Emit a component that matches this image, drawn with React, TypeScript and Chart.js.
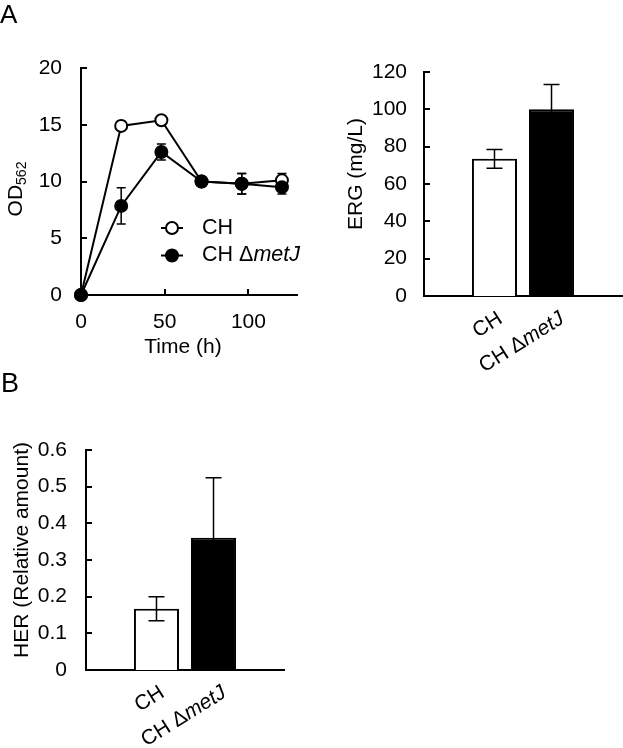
import React, { useEffect, useRef } from "react";
import { Chart, registerables } from "chart.js";

Chart.register(...registerables);

const FONT = "'Liberation Sans', Arial, Helvetica, sans-serif";
const W = 623;
const H = 748;

// ---------- Data ----------
const seriesNames = ["CH", "CH ΔmetJ"];
const italicPart = "metJ";

// Panel A (left): growth curve
const timeHours = [0, 24, 48, 72, 96, 120];
const odCH = [0, 14.9, 15.4, 10.0, 9.8, 10.1];
const odCHErr = [0, 0.4, 0.2, 0.2, 0.9, 0.6];
const odMetJ = [0, 7.85, 12.6, 10.0, 9.8, 9.5];
const odMetJErr = [0, 1.6, 0.7, 0.2, 0.9, 0.6];
const timeTicks = [0, 50, 100];
const odTicks = [0, 5, 10, 15, 20];
const timeTitle = "Time (h)";
const odTitle = "OD";
const odTitleSub = "562";

// Panel A (right): ERG
const ergValues = [73.5, 100];
const ergErrors = [5, 13.3];
const ergTicks = [0, 20, 40, 60, 80, 100, 120];
const ergTitle = "ERG (mg/L)";

// Panel B: HER
const herValues = [0.167, 0.361];
const herErrors = [0.033, 0.163];
const herTicks = [0, 0.1, 0.2, 0.3, 0.4, 0.5, 0.6];
const herTitle = "HER (Relative amount)";

const panelLetters = ["A", "B"];

// ---------- helpers ----------
function segments(text: string) {
  const idx = text.indexOf(italicPart);
  if (idx < 0) return [{ t: text, it: false }];
  const out: { t: string; it: boolean }[] = [];
  if (idx > 0) out.push({ t: text.slice(0, idx), it: false });
  out.push({ t: italicPart, it: true });
  const rest = text.slice(idx + italicPart.length);
  if (rest) out.push({ t: rest, it: false });
  return out;
}

function drawMixed(ctx: CanvasRenderingContext2D, text: string, x: number, y: number, size: number, align: "left" | "right" | "center") {
  const segs = segments(text);
  const fonts = segs.map((s) => `${s.it ? "italic " : ""}${size}px ${FONT}`);
  const widths = segs.map((s, i) => {
    ctx.font = fonts[i];
    return ctx.measureText(s.t).width;
  });
  const total = widths.reduce((a, b) => a + b, 0);
  let cx = align === "right" ? x - total : align === "center" ? x - total / 2 : x;
  ctx.textAlign = "left";
  segs.forEach((s, i) => {
    ctx.font = fonts[i];
    ctx.fillText(s.t, cx, y);
    cx += widths[i];
  });
}

const inwardTicks = {
  id: "inwardTicks",
  beforeDatasetsDraw(chart: any, _a: any, opts: any) {
    const ctx = chart.ctx;
    const { left, bottom } = chart.chartArea;
    ctx.save();
    ctx.strokeStyle = "#000";
    ctx.lineWidth = 2;
    const len = opts.len ?? 6;
    const ys = chart.scales.y;
    ys.ticks.forEach((t: any) => {
      const py = Math.round(ys.getPixelForValue(t.value));
      ctx.beginPath();
      ctx.moveTo(left, py);
      ctx.lineTo(left + len, py);
      ctx.stroke();
    });
    if (opts.x) {
      const xs = chart.scales.x;
      xs.ticks.forEach((t: any) => {
        const px = Math.round(xs.getPixelForValue(t.value));
        ctx.beginPath();
        ctx.moveTo(px, bottom);
        ctx.lineTo(px, bottom - len);
        ctx.stroke();
      });
    }
    ctx.restore();
  },
};

function drawErrors(chart: any, opts: any) {
  if (!opts || !opts.errors) return;
  const ctx = chart.ctx;
  const ys = chart.scales.y;
  ctx.save();
  ctx.strokeStyle = "#000";
  ctx.lineWidth = opts.lineWidth ?? 1.5;
  chart.data.datasets.forEach((ds: any, i: number) => {
    const meta = chart.getDatasetMeta(i);
    const errs = opts.errors[i];
    meta.data.forEach((el: any, j: number) => {
      const raw = ds.data[j];
      const v = typeof raw === "object" ? raw.y : raw;
      const e = errs[j];
      if (!e) return;
      const x = el.x;
      const yTop = ys.getPixelForValue(v + e);
      const yBot = ys.getPixelForValue(v - e);
      const hw = opts.cap / 2;
      ctx.beginPath();
      ctx.moveTo(x, yTop);
      ctx.lineTo(x, yBot);
      ctx.moveTo(x - hw, yTop);
      ctx.lineTo(x + hw, yTop);
      ctx.moveTo(x - hw, yBot);
      ctx.lineTo(x + hw, yBot);
      ctx.stroke();
    });
  });
  ctx.restore();
}

const errorBars = {
  id: "errorBars",
  beforeDatasetsDraw(chart: any, _a: any, opts: any) {
    if (opts.layer === "before") drawErrors(chart, opts);
  },
  afterDatasetsDraw(chart: any, _a: any, opts: any) {
    if (opts.layer !== "before") drawErrors(chart, opts);
  },
};

const customLegend = {
  id: "customLegend",
  afterDraw(chart: any, _a: any, opts: any) {
    if (!opts || !opts.show) return;
    const ctx = chart.ctx;
    const { left, top } = chart.chartArea;
    ctx.save();
    chart.data.datasets.forEach((ds: any, i: number) => {
      const cx = left + opts.dx;
      const cy = top + opts.dy + i * opts.rowGap;
      ctx.strokeStyle = "#000";
      ctx.lineWidth = 2;
      ctx.beginPath();
      ctx.moveTo(cx - opts.lineHalf, cy);
      ctx.lineTo(cx + opts.lineHalf, cy);
      ctx.stroke();
      ctx.beginPath();
      ctx.arc(cx, cy, ds.pointRadius, 0, Math.PI * 2);
      ctx.fillStyle = ds.pointBackgroundColor;
      ctx.fill();
      ctx.stroke();
      ctx.fillStyle = "#000";
      ctx.textBaseline = "alphabetic";
      drawMixed(ctx, ds.label, left + opts.textDx, cy + opts.textDy, opts.size, "left");
    });
    ctx.restore();
  },
};

const barLabels = {
  id: "barLabels",
  afterDraw(chart: any, _a: any, opts: any) {
    if (!opts || !opts.show) return;
    const ctx = chart.ctx;
    const bottom = chart.chartArea.bottom;
    ctx.save();
    ctx.fillStyle = "#000";
    ctx.textBaseline = "alphabetic";
    chart.data.datasets.forEach((ds: any, i: number) => {
      const el = chart.getDatasetMeta(i).data[0];
      ctx.save();
      ctx.translate(el.x + opts.dx[i], bottom + opts.dy);
      ctx.rotate((-opts.angle * Math.PI) / 180);
      drawMixed(ctx, ds.label, 0, 0, opts.size, "right");
      ctx.restore();
    });
    ctx.restore();
  },
};

const axisTitles = {
  id: "axisTitles",
  afterDraw(chart: any, _a: any, opts: any) {
    if (!opts || !opts.items) return;
    const ctx = chart.ctx;
    ctx.save();
    ctx.fillStyle = "#000";
    ctx.textBaseline = "alphabetic";
    opts.items.forEach((it: any) => {
      ctx.save();
      ctx.translate(it.x, it.y);
      if (it.rotate) ctx.rotate(-Math.PI / 2);
      if (it.sub) {
        ctx.font = `${it.size}px ${FONT}`;
        const w1 = ctx.measureText(it.text).width;
        ctx.font = `${it.subSize}px ${FONT}`;
        const w2 = ctx.measureText(it.sub).width;
        const sx = it.align === "center" ? -(w1 + w2) / 2 : 0;
        ctx.textAlign = "left";
        ctx.font = `${it.size}px ${FONT}`;
        ctx.fillText(it.text, sx, 0);
        ctx.font = `${it.subSize}px ${FONT}`;
        ctx.fillText(it.sub, sx + w1, it.subShift);
      } else {
        ctx.font = `${it.size}px ${FONT}`;
        ctx.textAlign = it.align || "center";
        ctx.fillText(it.text, 0, 0);
      }
      ctx.restore();
    });
    ctx.restore();
  },
};

Chart.register(inwardTicks, errorBars, customLegend, barLabels, axisTitles);

const TICK_SIZE = 21;

function yScale(min: number, max: number, ticks: number[], width: number, padding: number) {
  return {
    type: "linear",
    min,
    max,
    afterBuildTicks: (s: any) => {
      s.ticks = ticks.map((v) => ({ value: v }));
    },
    afterFit: (s: any) => {
      s.width = width;
    },
    grid: { display: false, drawTicks: false },
    border: { display: true, color: "#000", width: 2 },
    ticks: { color: "#000", padding, font: { family: FONT, size: TICK_SIZE } },
  };
}

function makeLineChart(canvas: HTMLCanvasElement) {
  const area = { left: 81, right: 297, top: 68, bottom: 295 };
  return new Chart(canvas, {
    type: "line",
    data: {
      datasets: [
        {
          label: seriesNames[0],
          data: timeHours.map((t, i) => ({ x: t, y: odCH[i] })),
          borderColor: "#000",
          borderWidth: 2,
          pointRadius: 6,
          pointBorderWidth: 2,
          pointBackgroundColor: "#fff",
          pointBorderColor: "#000",
          tension: 0,
          clip: false,
          order: 2,
        },
        {
          label: seriesNames[1],
          data: timeHours.map((t, i) => ({ x: t, y: odMetJ[i] })),
          borderColor: "#000",
          borderWidth: 2,
          pointRadius: 6,
          pointBorderWidth: 2,
          pointBackgroundColor: "#000",
          pointBorderColor: "#000",
          tension: 0,
          clip: false,
          order: 1,
        },
      ],
    },
    options: {
      responsive: false,
      animation: false,
      events: [],
      layout: { padding: { left: 0, top: area.top, right: W - area.right, bottom: 0 } },
      plugins: {
        legend: { display: false },
        tooltip: { enabled: false },
        inwardTicks: { x: true, len: 6 },
        errorBars: { errors: [odCHErr, odMetJErr], cap: 9, lineWidth: 1.5, layer: "before" },
        customLegend: { show: true, dx: 91, dy: 160, rowGap: 27.5, lineHalf: 11, textDx: 121, textDy: 5.5, size: 21.5 },
        axisTitles: {
          items: [
            { text: timeTitle, x: 183, y: 353, size: TICK_SIZE, align: "center" },
            { text: odTitle, sub: odTitleSub, x: 22, y: 189, size: TICK_SIZE, subSize: 14, subShift: 3.5, rotate: true, align: "center" },
          ],
        },
      } as any,
      scales: {
        x: {
          type: "linear",
          min: 0,
          max: 129,
          afterBuildTicks: (s: any) => {
            s.ticks = timeTicks.map((v) => ({ value: v }));
          },
          afterFit: (s: any) => {
            s.height = H - area.bottom;
          },
          grid: { display: false, drawTicks: false },
          border: { display: true, color: "#000", width: 2 },
          ticks: { color: "#000", padding: 15, maxRotation: 0, font: { family: FONT, size: TICK_SIZE } },
        },
        y: yScale(0, 20, odTicks, area.left, 19),
      } as any,
    },
  } as any);
}

function makeBarChart(
  canvas: HTMLCanvasElement,
  area: { left: number; right: number; top: number; bottom: number },
  values: number[],
  errors: number[],
  ticks: number[],
  yMax: number,
  labelPad: number,
  title: any
) {
  return new Chart(canvas, {
    type: "bar",
    data: {
      labels: [""],
      datasets: seriesNames.map((name, i) => ({
        label: name,
        data: [values[i]],
        backgroundColor: i === 0 ? "#fff" : "#000",
        borderColor: "#000",
        borderWidth: 2,
        categoryPercentage: 0.576,
        barPercentage: 0.79,
      })),
    },
    options: {
      responsive: false,
      animation: false,
      events: [],
      layout: { padding: { left: 0, top: area.top, right: W - area.right, bottom: 0 } },
      plugins: {
        legend: { display: false },
        tooltip: { enabled: false },
        inwardTicks: { x: false, len: 6 },
        errorBars: { errors: errors.map((e) => [e]), cap: 16, lineWidth: 1.5, layer: "after" },
        barLabels: { show: true, dx: [9, 14], dy: 26, angle: 32, size: TICK_SIZE },
        axisTitles: { items: [title] },
      } as any,
      scales: {
        x: {
          afterFit: (s: any) => {
            s.height = H - area.bottom;
          },
          grid: { display: false, drawTicks: false },
          border: { display: true, color: "#000", width: 2 },
          ticks: { display: false },
        },
        y: yScale(0, yMax, ticks, area.left, labelPad),
      } as any,
    },
  } as any);
}

export default function App() {
  const c1 = useRef<HTMLCanvasElement>(null);
  const c2 = useRef<HTMLCanvasElement>(null);
  const c3 = useRef<HTMLCanvasElement>(null);

  useEffect(() => {
    const charts: Chart[] = [];
    if (c1.current) charts.push(makeLineChart(c1.current));
    if (c2.current)
      charts.push(
        makeBarChart(c2.current, { left: 424, right: 622, top: 72, bottom: 296 }, ergValues, ergErrors, ergTicks, 120, 17, {
          text: ergTitle,
          x: 362,
          y: 174,
          size: TICK_SIZE,
          rotate: true,
          align: "center",
        })
      );
    if (c3.current)
      charts.push(
        makeBarChart(c3.current, { left: 86, right: 284, top: 450, bottom: 670 }, herValues, herErrors, herTicks, 0.6, 19, {
          text: herTitle,
          x: 28,
          y: 550,
          size: TICK_SIZE,
          rotate: true,
          align: "center",
        })
      );
    return () => charts.forEach((c) => c.destroy());
  }, []);

  const canvasStyle: React.CSSProperties = { position: "absolute", left: 0, top: 0, width: W, height: H };
  return (
    <div style={{ position: "absolute", left: 0, top: 0, width: W, height: H, background: "#fff", overflow: "hidden" }}>
      <canvas ref={c1} width={W} height={H} style={canvasStyle} />
      <canvas ref={c2} width={W} height={H} style={canvasStyle} />
      <canvas ref={c3} width={W} height={H} style={canvasStyle} />
      <div style={{ position: "absolute", left: 0, top: 1, fontFamily: FONT, fontSize: 26, lineHeight: "26px", color: "#000" }}>
        {panelLetters[0]}
      </div>
      <div style={{ position: "absolute", left: 1, top: 370, fontFamily: FONT, fontSize: 27, lineHeight: "27px", color: "#000" }}>
        {panelLetters[1]}
      </div>
    </div>
  );
}
